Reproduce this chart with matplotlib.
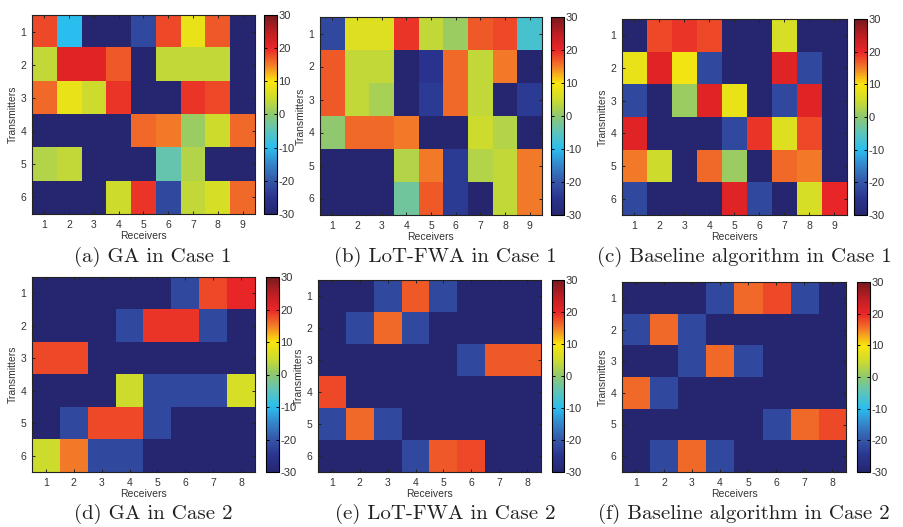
import numpy as np
import matplotlib
matplotlib.use("Agg")
import matplotlib.pyplot as plt
from matplotlib.colors import LinearSegmentedColormap

plt.rcParams['font.family'] = ['Liberation Sans', 'DejaVu Sans']
plt.rcParams['axes.unicode_minus'] = False

# transmitter -> receiver power levels (dB), 6 transmitters
ga_case1 = [
    [18, -10, -30, -30, -22, 18, 8, 17, -30],
    [4, 21, 21, 17, -30, 4, 4, 4, -30],
    [16, 8, 5, 19, -30, -30, 19, 18, -30],
    [-30, -30, -30, -30, 16, 15, 1, 5, 16],
    [3, 4, -30, -30, -30, -4, 3, -30, -30],
    [-30, -30, -30, 5, 19, -22, 4, 6, 16],
]
fwa_case1 = [
    [-22, 7, 7, 19, 4, 1, 17, 18, -7],
    [17, 4, 4, -30, -25, 16, 4, 15, -30],
    [17, 4, 2, -30, -24, 16, 4, -30, -24],
    [0, 16, 16, 15, -30, -30, 5, 3, -30],
    [-30, -30, -30, 3, 15, -24, 3, 4, 15],
    [-30, -30, -30, -3, 17, -24, -30, 4, 15],
]
base_case1 = [
    [-30, 18, 19, 18, -30, -30, 6, -30, -30],
    [8, 21, 9, -22, -30, -30, 21, -22, -30],
    [-22, -30, 1, 21, 8, -30, -22, 21, -30],
    [21, -30, -30, -30, -22, 19, 7, 18, -30],
    [15, 5, -30, 16, 1, -30, 16, 15, -30],
    [-22, -30, -30, -30, 21, -22, -30, 6, 20],
]
ga_case2 = [
    [-30, -30, -30, -30, -30, -22, 18, 20],
    [-30, -30, -30, -22, 19, 19, -22, -30],
    [18, 18, -30, -30, -30, -30, -30, -30],
    [-30, -30, -30, 5, -22, -22, -22, 6],
    [-30, -22, 18, 18, -22, -30, -30, -30],
    [5, 15, -22, -22, -30, -30, -30, -30],
]
fwa_case2 = [
    [-30, -30, -22, 17, -22, -30, -30, -30],
    [-30, -22, 16, -22, -30, -30, -30, -30],
    [-30, -30, -30, -30, -30, -22, 17, 17],
    [18, -30, -30, -30, -30, -30, -30, -30],
    [-22, 16, -22, -30, -30, -30, -30, -30],
    [-30, -30, -30, -22, 17, 18, -30, -30],
]
base_case2 = [
    [-30, -30, -30, -22, 16, 18, -22, -30],
    [-22, 16, -22, -30, -30, -30, -30, -30],
    [-30, -30, -22, 16, -22, -30, -30, -30],
    [16, -22, -30, -30, -30, -30, -30, -30],
    [-30, -30, -30, -30, -30, -22, 16, 18],
    [-30, -22, 16, -22, -30, -30, -30, -30],
]

captions = [
    "(a) GA in Case 1", "(b) LoT-FWA in Case 1", "(c) Baseline algorithm in Case 1",
    "(d) GA in Case 2", "(e) LoT-FWA in Case 2", "(f) Baseline algorithm in Case 2",
]
matrices = [ga_case1, fwa_case1, base_case1, ga_case2, fwa_case2, base_case2]

# muted jet, as it comes out of a printed page
jet_stops = [
    (38, 38, 112), (42, 52, 142), (52, 86, 168), (52, 132, 202),
    (42, 190, 238), (92, 196, 188), (142, 200, 112), (205, 220, 45),
    (250, 230, 12), (243, 125, 40), (234, 38, 40), (188, 30, 35),
    (120, 26, 30),
]
soft_jet = LinearSegmentedColormap.from_list(
    "soft_jet", [tuple(c / 255 for c in s) for s in jet_stops], N=256)

W, H = 904, 527
fig = plt.figure(figsize=(W / 100, H / 100), dpi=100)

# pixel boxes: (left, right, top, bottom) for the heatmap, (left, right) for its colorbar
boxes = [
    ((32, 255, 15, 214), (264, 277)),
    ((320, 542, 17, 215), (551, 564)),
    ((622, 847, 19, 215), (854, 867)),
    ((32, 255, 277, 472), (266, 279)),
    ((318, 541, 280, 472), (552, 564)),
    ((622, 846, 282, 472), (857, 870)),
]
caption_pos = [(153, 257), (445, 257), (744, 257), (153, 514), (445, 514), (744, 514)]


def to_fig(l, r, t, b):
    return [l / W, 1 - b / H, (r - l) / W, (b - t) / H]


for data, cap, (ax_box, cb_box), (cx, cy) in zip(matrices, captions, boxes, caption_pos):
    arr = np.array(data, dtype=float)
    ax = fig.add_axes(to_fig(*ax_box))
    im = ax.imshow(arr, cmap=soft_jet, vmin=-30, vmax=30, aspect='auto',
                   interpolation='nearest')
    ax.set_xticks(np.arange(arr.shape[1]))
    ax.set_xticklabels([str(i + 1) for i in range(arr.shape[1])])
    ax.set_yticks(np.arange(arr.shape[0]))
    ax.set_yticklabels([str(i + 1) for i in range(arr.shape[0])])
    ax.tick_params(direction='in', length=2.5, labelsize=7.5, color='#222222',
                   labelcolor='#333333', top=True, right=True, pad=4, width=0.7)
    ax.set_xlabel("Receivers", fontsize=7.5, labelpad=1, color='#333333')
    ax.set_ylabel("Transmitters", fontsize=7.5, labelpad=2, color='#333333')
    for s in ax.spines.values():
        s.set_linewidth(0.8)
        s.set_color('#222222')

    t = ax_box[2]
    b = ax_box[3]
    cax = fig.add_axes(to_fig(cb_box[0], cb_box[1], t, b))
    cb = fig.colorbar(im, cax=cax, ticks=[-30, -20, -10, 0, 10, 20, 30])
    cb.ax.tick_params(direction='in', length=2, labelsize=8, pad=1, width=0.7,
                      labelcolor='#333333', left=True)
    cb.outline.set_linewidth(0.8)

    fig.text(cx / W, 1 - cy / H, cap, ha='center', va='center', fontsize=15,
             family='cmr10', color='#222222')

fig.savefig("out.png", dpi=100)
